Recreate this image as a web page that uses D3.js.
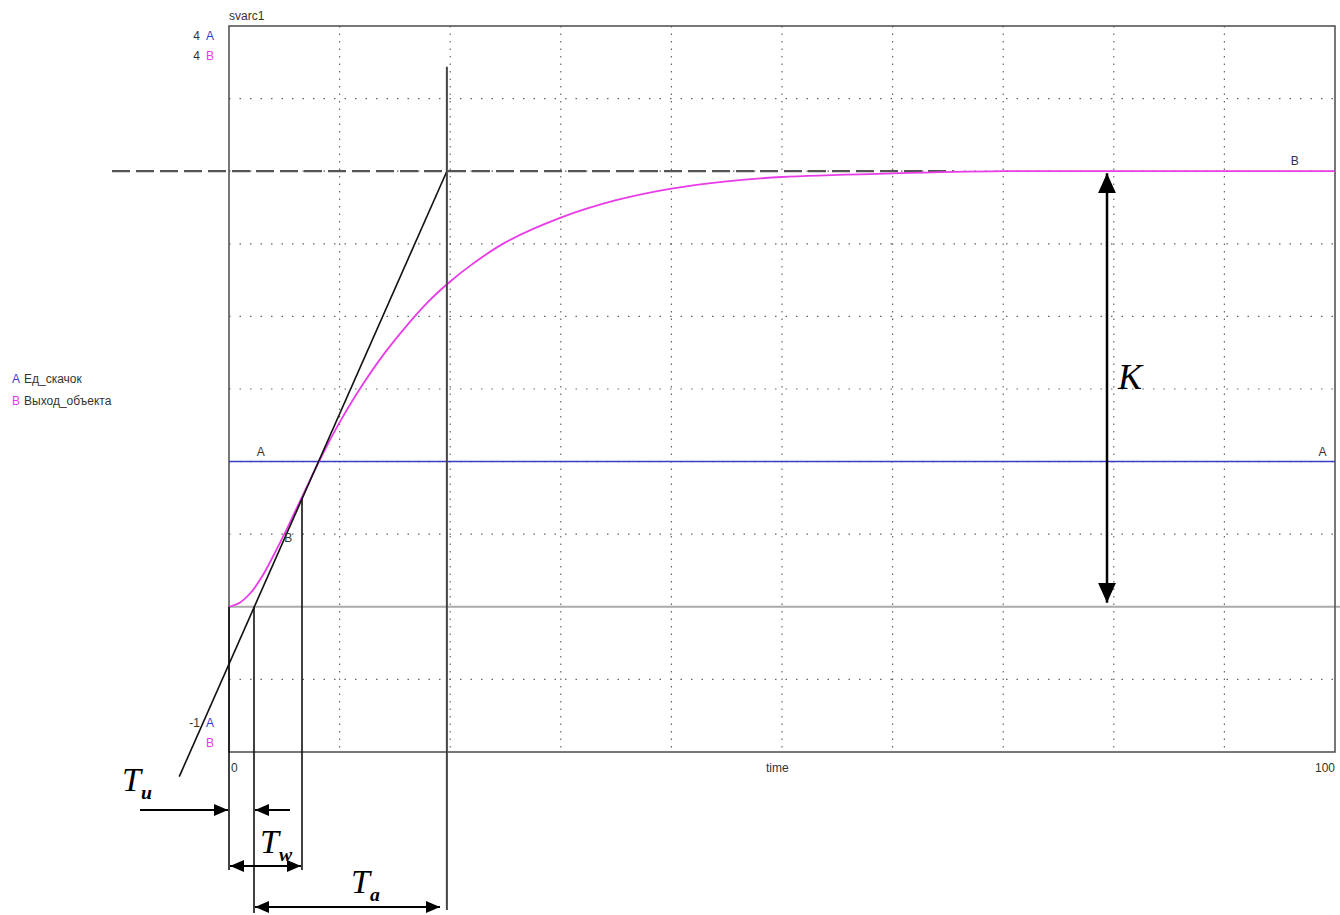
<!DOCTYPE html>
<html>
<head>
<meta charset="utf-8">
<script src="https://cdn.jsdelivr.net/npm/d3@7"></script>
<style>
  body { margin: 0; background: #fff; }
  svg { display: block; }
</style>
</head>
<body>
<figure id="chart" style="margin:0"></figure>
<script>
// reference step input and object response
const time = [0, 1, 2, 3, 4, 5, 6, 7, 8, 9, 10, 12, 14, 16, 18, 20, 22, 25, 30, 35, 40, 45, 50, 60, 70, 80, 90, 100];
const output = [0, 0.03, 0.10, 0.21, 0.35, 0.50, 0.66, 0.82, 0.98, 1.13, 1.27, 1.52, 1.74, 1.93, 2.10, 2.24, 2.36, 2.51, 2.68, 2.80, 2.88, 2.93, 2.96, 2.985, 3.0, 3.0, 3.0, 3.0];
const stepTime = [0, 100];
const stepValue = [1, 1];
const gain = 3;

// tangent at the inflection point
const tangentT = [-4.5, 19.7];
const tangentV = [-1.17, 3];
const Tu = 2.26;     // tangent crosses 0
const Tw = 6.6;      // inflection point
const TwValue = 0.75;
const Tend = 19.7;   // tangent reaches K

const xTicks = d3.range(10, 100, 10);
const yGrid = [3.5, 3, 2.5, 2, 1.5, 1, 0.5, -0.5];

const width = 1340, height = 915;
const svg = d3.select("#chart").append("svg")
  .attr("width", width).attr("height", height);

const x = d3.scaleLinear().domain([0, 100]).range([229, 1335]);
const y = d3.scaleLinear().domain([-1, 4]).range([752, 26]);

const defs = svg.append("defs");
function marker(id, w, h) {
  defs.append("marker")
    .attr("id", id).attr("viewBox", `0 0 ${w} ${h}`)
    .attr("refX", w).attr("refY", h / 2)
    .attr("markerWidth", w).attr("markerHeight", h)
    .attr("markerUnits", "userSpaceOnUse")
    .attr("orient", "auto-start-reverse")
    .append("path").attr("d", `M0,0L${w},${h / 2}L0,${h}Z`).attr("fill", "#000");
}
marker("arr", 14, 12);
marker("arrBig", 20, 18);

// grid
svg.append("g").selectAll("line").data(xTicks).enter().append("line")
  .attr("x1", d => x(d)).attr("x2", d => x(d))
  .attr("y1", y(4)).attr("y2", y(-1))
  .attr("stroke", "#666").attr("stroke-width", 1.2).attr("stroke-dasharray", "1.5,6");
svg.append("g").selectAll("line").data(yGrid).enter().append("line")
  .attr("x1", x(0)).attr("x2", x(100))
  .attr("y1", d => y(d)).attr("y2", d => y(d))
  .attr("stroke", "#666").attr("stroke-width", 1.2).attr("stroke-dasharray", "1.5,9");

// zero level
svg.append("line")
  .attr("x1", x(0)).attr("x2", x(100) + 5)
  .attr("y1", y(0)).attr("y2", y(0))
  .attr("stroke", "#aaa").attr("stroke-width", 2);

// frame
svg.append("rect")
  .attr("x", x(0)).attr("y", y(4))
  .attr("width", x(100) - x(0)).attr("height", y(-1) - y(4))
  .attr("fill", "none").attr("stroke", "#555").attr("stroke-width", 1.6);

// dashed K level
svg.append("line")
  .attr("x1", 112).attr("x2", x(65.5))
  .attr("y1", y(gain)).attr("y2", y(gain))
  .attr("stroke", "#555").attr("stroke-width", 2.2).attr("stroke-dasharray", "18,6");

// series A
const line = d3.line().x(d => x(d[0])).y(d => y(d[1]));
svg.append("path")
  .datum(d3.zip(stepTime, stepValue))
  .attr("d", line).attr("fill", "none")
  .attr("stroke", "#3c3cc8").attr("stroke-width", 1.5);

// series B
svg.append("path")
  .datum(d3.zip(time, output))
  .attr("d", d3.line().curve(d3.curveCatmullRom.alpha(0.5)).x(d => x(d[0])).y(d => y(d[1])))
  .attr("fill", "none")
  .attr("stroke", "#e83ce8").attr("stroke-width", 1.8);

// tangent
svg.append("path")
  .datum(d3.zip(tangentT, tangentV))
  .attr("d", line).attr("fill", "none")
  .attr("stroke", "#111").attr("stroke-width", 1.6);

// construction verticals
const vlines = [
  { t: 0, v0: 0, y2: 870, c: "#111" },
  { t: Tu, v0: 0, y2: 913, c: "#111" },
  { t: Tw, v0: TwValue, y2: 870, c: "#111" },
  { t: Tend, v0: 3.72, y2: 910, c: "#444" }
];
svg.append("g").selectAll("line").data(vlines).enter().append("line")
  .attr("x1", d => x(d.t)).attr("x2", d => x(d.t))
  .attr("y1", d => y(d.v0)).attr("y2", d => d.y2)
  .attr("stroke", d => d.c).attr("stroke-width", d => d.t === Tend ? 2 : 1.6);

// dimension arrows
function arrow(x1, y1, x2, y2, start, big) {
  const m = big ? "url(#arrBig)" : "url(#arr)";
  const l = svg.append("line")
    .attr("x1", x1).attr("y1", y1).attr("x2", x2).attr("y2", y2)
    .attr("stroke", "#000").attr("stroke-width", big ? 2.5 : 1.8)
    .attr("marker-end", m);
  if (start) l.attr("marker-start", m);
}
arrow(140, 810, x(0) - 1, 810, false);
arrow(290, 810, x(Tu) + 1, 810, false);
arrow(x(0) + 1, 866, x(Tw) - 1, 866, true);
arrow(x(Tu) + 1, 907, 440, 907, true);
arrow(1107, y(gain) + 2, 1107, y(0) - 4, true, true);

// small texts
const small = "'Liberation Sans', Arial, sans-serif";
function txt(s, px, py, color, anchor) {
  return svg.append("text").attr("x", px).attr("y", py)
    .attr("font-family", small).attr("font-size", 12)
    .attr("fill", color || "#333").attr("text-anchor", anchor || "start").text(s);
}
txt("svarc1", 229, 20);
txt("4", 200, 40, "#333", "end"); txt("A", 206, 40, "#3c3cc8");
txt("4", 200, 60, "#333", "end"); txt("B", 206, 60, "#e83ce8");
txt("-1", 200, 727, "#333", "end"); txt("A", 206, 727, "#3c3cc8");
txt("B", 206, 747, "#e83ce8");
txt("0", x(0) + 2, 772);
txt("time", x(50) - 16, 772);
txt("100", x(100), 772, "#333", "end");
txt("A", x(2.5), y(1) - 6);
txt("A", x(98.5), y(1) - 6);
txt("B", x(96), y(gain) - 6);
txt("B", x(5), y(0.5) + 8);

// legend
txt("A", 12, 383, "#3c3cc8"); txt("Ед_скачок", 24, 383);
txt("B", 12, 405, "#e83ce8"); txt("Выход_объекта", 24, 405);

// big italic labels
function sym(main, sub, px, py, size) {
  const t = svg.append("text").attr("x", px).attr("y", py)
    .attr("font-family", "'Liberation Serif', 'Times New Roman', serif")
    .attr("font-style", "italic").attr("font-size", size).attr("fill", "#000");
  t.append("tspan").text(main);
  if (sub) t.append("tspan").attr("dy", 8).attr("font-size", size * 0.58).attr("font-weight", "bold").text(sub);
}
sym("T", "u", 122, 791, 34);
sym("T", "w", 260, 853, 34);
sym("T", "a", 351, 893, 34);
sym("K", null, 1118, 389, 36);
</script>
</body>
</html>
